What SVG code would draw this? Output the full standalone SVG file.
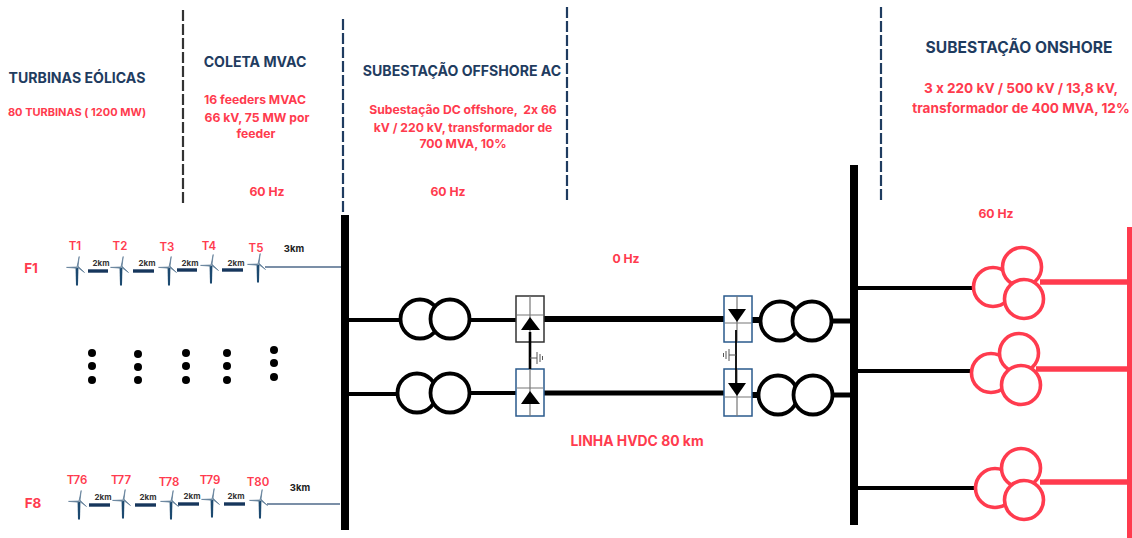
<svg xmlns="http://www.w3.org/2000/svg" width="1132" height="538" viewBox="0 0 1132 538" font-family="Inter, 'Liberation Sans', sans-serif">
<style>
text{text-anchor:middle;font-family:Inter,'Liberation Sans',sans-serif;font-weight:700;font-feature-settings:"calt" 0;font-variant-ligatures:none;white-space:pre}
.h{fill:#1f3c60;font-size:14.1px}
.h2{font-size:15.6px}
.r{fill:#ff3b4e;font-size:12.2px}
.t{fill:#ff3b4e;font-size:11.5px;font-weight:600}
.f{fill:#ff3b4e;font-size:13.5px}
.k{fill:#333;font-size:8px}
.k3{fill:#222;font-size:9.5px}
.div{stroke-width:2.2;stroke-dasharray:11 3;fill:none}
.bus{fill:#000}
.ln{stroke:#000;fill:none}
.tx{fill:#fff;stroke:#000;stroke-width:3.8}
.rx{fill:#fff;stroke:#ff3b4e;stroke-width:3.6}
.rl{stroke:#ff3b4e;fill:none;stroke-width:5.5}
.bar{stroke:#16365c;stroke-width:3.4}
.feed{stroke:#4f6a8a;stroke-width:1.4;fill:none}
.box{fill:#fff;stroke-width:1.5}
.in{stroke:#777;stroke-width:1.2;fill:none}
.dot{fill:#000}
</style>
<defs>
<g id="wt">
<path d="M-1.4 1L-1 18.5H1L1.4 1Z" fill="#1d4a70"/>
<path d="M0 0L2.2-10.5L1-.3M0 0L-10.5 .4L-.3 1.2M0 0L7.5 5.5L.8-1" fill="#6a879f" stroke="#5b7a95" stroke-width=".7"/>
</g>
<g id="gnd" stroke="#555" fill="none" stroke-width="1">
<path d="M0 0H7M7-6V6M10-4V4M12.5-2V2"/>
</g>
</defs>

<g id="dividers">
<line class="div" x1="183" y1="10" x2="183" y2="203" stroke="#333"/>
<line class="div" x1="343" y1="19" x2="343" y2="212" stroke="#1f3c60"/>
<line class="div" x1="567" y1="7" x2="567" y2="200" stroke="#1f3c60"/>
<line class="div" x1="881" y1="7" x2="881" y2="200" stroke="#1f3c60"/>
</g>

<g id="labels">
<text class="h" x="77" y="83">TURBINAS EÓLICAS</text>
<text class="r" x="77" y="116" style="font-size:11px">80 TURBINAS ( 1200 MW)</text>
<text class="h" x="255" y="67">COLETA MVAC</text>
<text class="r" x="255" y="104">16 feeders MVAC</text>
<text class="r" x="257" y="122">66 kV, 75 MW por</text>
<text class="r" x="256" y="138">feeder</text>
<text class="r" x="267" y="196">60 Hz</text>
<text class="h" x="462" y="76">SUBESTAÇÃO OFFSHORE AC</text>
<text class="r" x="463" y="114" xml:space="preserve">Subestação DC offshore,  2x 66</text>
<text class="r" x="463" y="132">kV / 220 kV, transformador de</text>
<text class="r" x="463" y="148">700 MVA, 10%</text>
<text class="r" x="448" y="196">60 Hz</text>
<text class="h h2" x="1019" y="53">SUBESTAÇÃO ONSHORE</text>
<text class="r" x="1021" y="93" style="font-size:13.6px">3 x 220 kV / 500 kV / 13,8 kV,</text>
<text class="r" x="1021" y="113" style="font-size:13.6px">transformador de 400 MVA, 12%</text>
<text class="r" x="996" y="218">60 Hz</text>
<text class="r" x="626" y="263">0 Hz</text>
<text class="r" x="637" y="446" style="font-size:13.9px">LINHA HVDC 80 km</text>
</g>

<g id="connectors">
<line class="feed" x1="265" y1="267" x2="343" y2="267"/>
<line class="feed" x1="267" y1="504" x2="340" y2="504"/>
<line class="ln" stroke-width="4" x1="347" y1="320" x2="402" y2="320"/>
<line class="ln" stroke-width="4" x1="467" y1="320" x2="516" y2="320"/>
<line class="ln" stroke-width="6" x1="544" y1="319" x2="724" y2="319"/>
<line class="ln" stroke-width="6" x1="752" y1="320" x2="762" y2="320"/>
<line class="ln" stroke-width="5" x1="832" y1="321" x2="852" y2="321"/>
<line class="ln" stroke-width="4" x1="347" y1="394" x2="399" y2="394"/>
<line class="ln" stroke-width="4" x1="467" y1="393" x2="516" y2="393"/>
<line class="ln" stroke-width="5" x1="544" y1="393" x2="724" y2="393"/>
<line class="ln" stroke-width="6" x1="752" y1="395" x2="760" y2="395"/>
<line class="ln" stroke-width="5" x1="832" y1="395" x2="852" y2="395"/>
<line class="ln" stroke-width="4" x1="856" y1="288" x2="973" y2="288"/>
<line class="ln" stroke-width="4" x1="856" y1="371" x2="971" y2="371"/>
<line class="ln" stroke-width="4" x1="856" y1="488" x2="975" y2="488"/>
<line class="rl" x1="1040" y1="282" x2="1129" y2="282"/>
<line class="rl" x1="1036" y1="369" x2="1129" y2="369"/>
<line class="rl" x1="1040" y1="482" x2="1129" y2="482"/>
</g>

<g id="bus-offshore"><rect class="bus" x="341" y="215" width="8" height="315"/></g>
<g id="bus-onshore"><rect class="bus" x="850" y="165" width="8" height="360"/></g>
<g id="bus-red"><rect x="1127" y="227" width="5" height="311" fill="#ff3b4e"/></g>

<g id="feeder-f1">
<text class="f" x="31" y="273">F1</text>
<text class="t" x="75" y="250">T1</text><text class="t" x="120" y="250">T2</text><text class="t" x="167" y="251">T3</text><text class="t" x="209" y="250">T4</text><text class="t" x="256" y="252">T5</text>
<use href="#wt" x="77" y="267"/><use href="#wt" x="121" y="267"/><use href="#wt" x="169" y="267"/><use href="#wt" x="211" y="265"/><use href="#wt" x="258" y="264"/>
<line class="bar" x1="88" y1="271" x2="108" y2="271"/><line class="bar" x1="133" y1="271" x2="154" y2="271"/><line class="bar" x1="177" y1="270" x2="197" y2="270"/><line class="bar" x1="222" y1="270" x2="243" y2="270"/>
<text class="k" x="101" y="266">2km</text><text class="k" x="147" y="266">2km</text><text class="k" x="190" y="266">2km</text><text class="k" x="236" y="266">2km</text>
<text class="k3" x="294" y="252">3km</text>
</g>

<g id="feeder-f8">
<text class="f" x="33" y="508">F8</text>
<text class="t" x="77" y="484">T76</text><text class="t" x="121" y="484">T77</text><text class="t" x="169" y="486">T78</text><text class="t" x="210" y="484">T79</text><text class="t" x="258" y="486">T80</text>
<use href="#wt" x="79" y="501"/><use href="#wt" x="123" y="500"/><use href="#wt" x="171" y="501"/><use href="#wt" x="212" y="499"/><use href="#wt" x="260" y="500"/>
<line class="bar" x1="89" y1="505" x2="110" y2="505"/><line class="bar" x1="135" y1="505" x2="156" y2="505"/><line class="bar" x1="178" y1="504" x2="199" y2="504"/><line class="bar" x1="224" y1="504" x2="245" y2="504"/>
<text class="k" x="103" y="500">2km</text><text class="k" x="148" y="500">2km</text><text class="k" x="192" y="499">2km</text><text class="k" x="236" y="499">2km</text>
<text class="k3" x="300" y="491">3km</text>
</g>

<g id="ellipsis">
<circle class="dot" cx="92" cy="353" r="4"/><circle class="dot" cx="92" cy="366" r="4"/><circle class="dot" cx="92" cy="380" r="4"/>
<circle class="dot" cx="138" cy="354" r="4"/><circle class="dot" cx="138" cy="367" r="4"/><circle class="dot" cx="138" cy="380" r="4"/>
<circle class="dot" cx="186" cy="353" r="4"/><circle class="dot" cx="186" cy="366" r="4"/><circle class="dot" cx="186" cy="380" r="4"/>
<circle class="dot" cx="227" cy="353" r="4"/><circle class="dot" cx="227" cy="366" r="4"/><circle class="dot" cx="227" cy="380" r="4"/>
<circle class="dot" cx="274" cy="350" r="4"/><circle class="dot" cx="274" cy="363" r="4"/><circle class="dot" cx="274" cy="377" r="4"/>
</g>

<g id="tx-off-top"><circle class="tx" cx="420" cy="319" r="19.5"/><circle class="tx" cx="450" cy="319" r="19.5"/></g>
<g id="tx-off-bot"><circle class="tx" cx="417" cy="393" r="19.5"/><circle class="tx" cx="450" cy="393" r="19.5"/></g>
<g id="tx-on-top"><circle class="tx" cx="780" cy="321" r="19.5"/><circle class="tx" cx="812" cy="321" r="19.5"/></g>
<g id="tx-on-bot"><circle class="tx" cx="778" cy="395" r="19.5"/><circle class="tx" cx="813" cy="395" r="19.5"/></g>

<g id="conv-off-top">
<rect class="box" x="516" y="296" width="28" height="46" stroke="#333"/>
<path class="in" d="M530 296V342M517 315H543"/>
<path d="M530 317L521 330H540Z" fill="#000"/>
</g>
<g id="conv-off-bot">
<rect class="box" x="516" y="369" width="28" height="47" stroke="#2a5a8c"/>
<path class="in" d="M530 369V416M517 388H543"/>
<path d="M530 391L521 404H540Z" fill="#000"/>
</g>
<g id="conv-on-top">
<rect class="box" x="724" y="296" width="28" height="46" stroke="#2a5a8c"/>
<path class="in" d="M737 296V342M725 323H751"/>
<path d="M737 322L728 309H746Z" fill="#000"/>
</g>
<g id="conv-on-bot">
<rect class="box" x="724" y="369" width="28" height="47" stroke="#2a5a8c"/>
<path class="in" d="M737 369V416M725 397H751"/>
<path d="M737 396L728 383H746Z" fill="#000"/>
</g>
<g id="dc-links">
<line class="ln" stroke-width="2.6" x1="530" y1="332" x2="530" y2="369"/>
<use href="#gnd" x="530" y="358"/>
<line class="ln" stroke-width="1.8" x1="736" y1="330" x2="736" y2="385"/>
<use href="#gnd" transform="translate(736,355) scale(-1,1)"/>
</g>

<g id="tx3-1"><circle class="rx" cx="993" cy="287" r="19.5"/><circle class="rx" cx="1022" cy="267" r="19.5"/><circle class="rx" cx="1024" cy="299" r="19.5"/></g>
<g id="tx3-2"><circle class="rx" cx="991" cy="373" r="19.5"/><circle class="rx" cx="1019" cy="353" r="19.5"/><circle class="rx" cx="1021" cy="385" r="19.5"/></g>
<g id="tx3-3"><circle class="rx" cx="995" cy="488" r="19.5"/><circle class="rx" cx="1021" cy="468" r="19.5"/><circle class="rx" cx="1024" cy="500" r="19.5"/></g>
</svg>
